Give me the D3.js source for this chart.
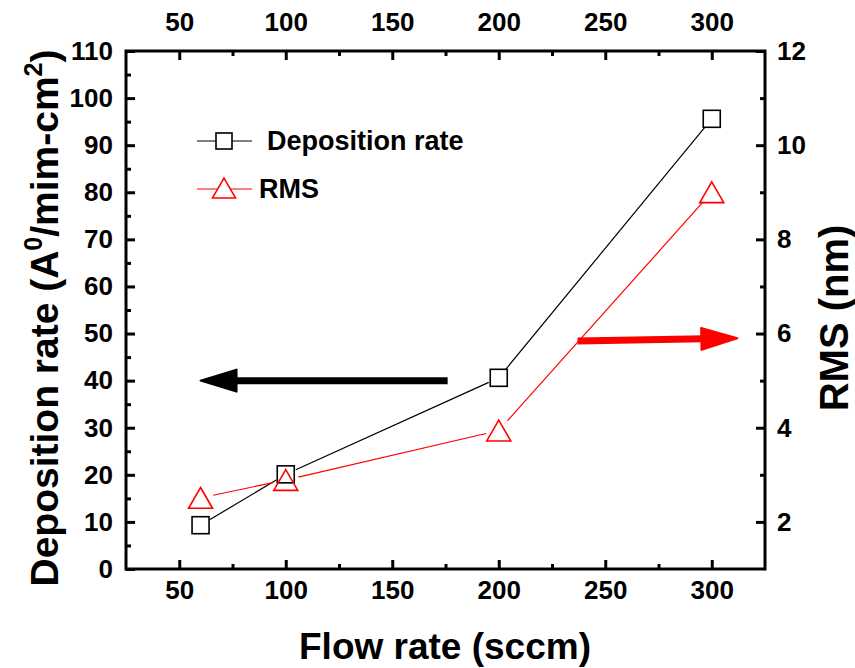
<!DOCTYPE html>
<html>
<head>
<meta charset="utf-8">
<script src="https://cdn.jsdelivr.net/npm/d3@7"></script>
<style>
  body { margin: 0; background: #fff; }
  text { font-family: "Liberation Sans", Arial, sans-serif; font-weight: bold; }
</style>
</head>
<body>
<script>
// data
var flow = [60, 100, 200, 300];
var depRate = [9.3, 20.1, 40.6, 95.6];
var rms = [2.51, 2.89, 3.94, 9.0];

var xTicks = [50, 100, 150, 200, 250, 300];
var xMinor = [75, 125, 175, 225, 275];
var yLTicks = [0, 10, 20, 30, 40, 50, 60, 70, 80, 90, 100, 110];
var yLMinor = [5, 15, 25, 35, 45, 55, 65, 75, 85, 95, 105];
var yRTicks = [2, 4, 6, 8, 10, 12];
var yRMinor = [3, 5, 7, 9, 11];

var svg = d3.select("body")
            .append("svg")
            .attr("width", 855)
            .attr("height", 668)

var plotL = 126, plotR = 765, plotT = 51, plotB = 569;

var x = d3.scaleLinear().domain([25, 325]).range([plotL, plotR]);
var yL = d3.scaleLinear().domain([0, 110]).range([plotB, plotT]);
var yR = d3.scaleLinear().domain([1, 12]).range([plotB, plotT]);

function styleAxis(g) {
    g.select(".domain").remove();
    g.selectAll(".tick line").attr("stroke", "black").attr("stroke-width", 3);
    g.selectAll(".tick text").attr("font-size", 26).attr("fill", "black");
}

// major + minor ticks, pointing inward
svg.append("g").attr("transform", "translate(0," + plotB + ")")
    .call(d3.axisBottom(x).tickValues(xTicks).tickSize(-9).tickPadding(12))
    .call(styleAxis);
svg.append("g").attr("transform", "translate(0," + plotB + ")")
    .call(d3.axisBottom(x).tickValues(xMinor).tickSize(-5).tickFormat(""))
    .call(styleAxis);
svg.append("g").attr("transform", "translate(0," + plotT + ")")
    .call(d3.axisTop(x).tickValues(xTicks).tickSize(-9).tickPadding(20))
    .call(styleAxis);
svg.append("g").attr("transform", "translate(0," + plotT + ")")
    .call(d3.axisTop(x).tickValues(xMinor).tickSize(-5).tickFormat(""))
    .call(styleAxis);

svg.append("g").attr("transform", "translate(" + plotL + ",0)")
    .call(d3.axisLeft(yL).tickValues(yLTicks).tickSize(-9).tickPadding(13))
    .call(styleAxis);
svg.append("g").attr("transform", "translate(" + plotL + ",0)")
    .call(d3.axisLeft(yL).tickValues(yLMinor).tickSize(-5).tickFormat(""))
    .call(styleAxis);
svg.append("g").attr("transform", "translate(" + plotR + ",0)")
    .call(d3.axisRight(yR).tickValues(yRTicks).tickSize(-9).tickPadding(12))
    .call(styleAxis);
svg.append("g").attr("transform", "translate(" + plotR + ",0)")
    .call(d3.axisRight(yR).tickValues(yRMinor).tickSize(-5).tickFormat(""))
    .call(styleAxis);

// frame
svg.append("rect")
    .attr("x", plotL).attr("y", plotT)
    .attr("width", plotR - plotL).attr("height", plotB - plotT)
    .attr("fill", "none").attr("stroke", "black").attr("stroke-width", 3);

// connecting lines with a small gap at each symbol
function gapLine(pts, gap, color) {
    for (var i = 0; i < pts.length - 1; i++) {
        var a = pts[i], b = pts[i + 1];
        var dx = b[0] - a[0], dy = b[1] - a[1];
        var len = Math.sqrt(dx * dx + dy * dy);
        var ux = dx / len, uy = dy / len;
        svg.append("line")
            .attr("x1", a[0] + ux * gap).attr("y1", a[1] + uy * gap)
            .attr("x2", b[0] - ux * gap).attr("y2", b[1] - uy * gap)
            .attr("stroke", color).attr("stroke-width", 1.2);
    }
}

var depPts = flow.map(function(f, i) { return [x(f), yL(depRate[i])]; });
var rmsPts = flow.map(function(f, i) { return [x(f), yR(rms[i])]; });

gapLine(depPts, 11, "black");
gapLine(rmsPts, 13, "red");

function triPath(w) {
    var h = w * 0.866;
    return "M0," + (-h / 2) + "L" + (w / 2) + "," + (h / 2) + "L" + (-w / 2) + "," + (h / 2) + "Z";
}

svg.selectAll(".sq").data(depPts).enter().append("rect")
    .attr("x", function(d) { return d[0] - 8.5; })
    .attr("y", function(d) { return d[1] - 8.5; })
    .attr("width", 17).attr("height", 17)
    .attr("fill", "none").attr("stroke", "black").attr("stroke-width", 1.6);

svg.selectAll(".tri").data(rmsPts).enter().append("path")
    .attr("d", triPath(24))
    .attr("transform", function(d) { return "translate(" + d[0] + "," + d[1] + ")"; })
    .attr("fill", "none").attr("stroke", "red").attr("stroke-width", 1.6);

// legend
svg.append("line").attr("x1", 197).attr("x2", 252).attr("y1", 141).attr("y2", 141)
    .attr("stroke", "black").attr("stroke-width", 1.2);
svg.append("rect").attr("x", 216).attr("y", 133).attr("width", 16).attr("height", 16)
    .attr("fill", "white").attr("stroke", "black").attr("stroke-width", 1.6);
svg.append("text").attr("x", 267).attr("y", 150).attr("font-size", 27).text("Deposition rate");

svg.append("line").attr("x1", 197).attr("x2", 252).attr("y1", 189).attr("y2", 189)
    .attr("stroke", "red").attr("stroke-width", 1.2);
svg.append("path").attr("d", triPath(23)).attr("transform", "translate(224,188)")
    .attr("fill", "white").attr("stroke", "red").attr("stroke-width", 1.6);
svg.append("text").attr("x", 259).attr("y", 198).attr("font-size", 27).text("RMS");

// arrows showing which axis goes with which series
function arrow(x1, y1, x2, y2, color) {
    var dx = x2 - x1, dy = y2 - y1;
    var len = Math.sqrt(dx * dx + dy * dy);
    var ux = dx / len, uy = dy / len;
    var hl = 36, hw = 11;
    var bx = x2 - ux * hl, by = y2 - uy * hl;
    svg.append("line")
        .attr("x1", x1).attr("y1", y1).attr("x2", bx + ux * 2).attr("y2", by + uy * 2)
        .attr("stroke", color).attr("stroke-width", 7);
    svg.append("path")
        .attr("d", "M" + x2 + "," + y2 +
                   "L" + (bx - uy * hw) + "," + (by + ux * hw) +
                   "L" + (bx + uy * hw) + "," + (by - ux * hw) + "Z")
        .attr("fill", color).attr("stroke", color).attr("stroke-width", 2)
        .attr("stroke-linejoin", "round");
}
arrow(x(176), yL(40), x(60), yL(40), "black");
arrow(x(237), yR(5.84), x(312), yR(5.9), "red");

// axis titles
svg.append("text")
    .attr("x", 445).attr("y", 659)
    .attr("text-anchor", "middle").attr("font-size", 37)
    .text("Flow rate (sccm)");

var lt = svg.append("text")
    .attr("transform", "translate(58,318) rotate(-90)")
    .attr("text-anchor", "middle").attr("font-size", 39);
lt.append("tspan").text("Deposition rate (A");
lt.append("tspan").attr("dy", -16).attr("font-size", 25).text("0");
lt.append("tspan").attr("dy", 16).text("/mim-cm");
lt.append("tspan").attr("dy", -16).attr("font-size", 25).text("2");
lt.append("tspan").attr("dy", 16).text(")");

svg.append("text")
    .attr("transform", "translate(848,318) rotate(-90)")
    .attr("text-anchor", "middle").attr("font-size", 40)
    .text("RMS (nm)");
</script>
</body>
</html>
